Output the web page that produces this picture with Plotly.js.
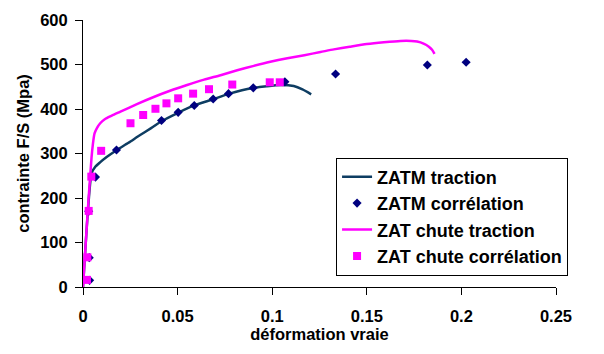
<!DOCTYPE html>
<html>
<head>
<meta charset="utf-8">
<script src="https://cdn.plot.ly/plotly-3.0.1.min.js"></script>
<style>html,body{margin:0;padding:0;background:#fff;}#chart{width:604px;height:354px;}</style>
</head>
<body>
<div id="chart"></div>
<script>
// ZATM traction (continuous curve)
const zatmTractionX = [0,0.0025,0.0045,0.0065,0.0090,0.0125,0.0179,0.024,0.030,0.036,0.0417,0.0505,0.0586,0.0688,0.077,0.084,0.090,0.097,0.1044,0.1114,0.116,0.1206];
const zatmTractionY = [0,165,255,270,280,292,308,324,341,357,373,392,408,422,434,442,447,451,454,451.5,444,433];

// ZATM corrélation (diamonds)
const zatmCorrX = [0.0035,0.0033,0.003,0.0066,0.0177,0.0415,0.0503,0.0588,0.0688,0.0769,0.090,0.1067,0.1335,0.182,0.2025];
const zatmCorrY = [15,66,170,247,308,374,392.5,408,422.5,434.5,447.5,461,478.5,499,505];

// ZAT chute traction (continuous curve)
const zatTractionX = [0,0.0025,0.0045,0.0052,0.0061,0.0075,0.0091,0.0115,0.0152,0.0198,0.0285,0.0374,0.046,0.055,0.064,0.0727,0.0815,0.0903,0.099,0.108,0.117,0.1255,0.1326,0.141,0.150,0.159,0.1678,0.1735,0.1766,0.180,0.1828,0.1845,0.1858];
const zatTractionY = [0,170,290,320,345,358,368,377,385,394,411,427,441,454,466,476,487,497,506,514,521,528,534,540,546,550,553,553,551.5,547,540,533,524];

// ZAT chute corrélation (squares)
const zatCorrX = [0.0021,0.0023,0.003,0.0044,0.0096,0.0251,0.0318,0.0383,0.0441,0.0503,0.0582,0.0666,0.0789,0.0987,0.104];
const zatCorrY = [16,66.7,171,248,306,368,386.5,400.5,412.7,424,434.5,444.5,455,460,460];

const seriesNames = ["ZATM traction","ZATM corrélation","ZAT chute traction","ZAT chute corrélation"];
const xTitle = "déformation vraie";
const yTitle = "contrainte F/S (Mpa)";

const FONT = "Liberation Sans, Arial, sans-serif";

const traces = [
  {x: zatmTractionX, y: zatmTractionY, name: seriesNames[0], mode: "lines", type: "scatter",
   line: {color: "#0E3D62", width: 2.5, shape: "spline", smoothing: 0.6}},
  {x: zatmCorrX, y: zatmCorrY, name: seriesNames[1], mode: "markers", type: "scatter",
   marker: {symbol: "diamond", size: 7, color: "#000080"}},
  {x: zatTractionX, y: zatTractionY, name: seriesNames[2], mode: "lines", type: "scatter",
   line: {color: "#FF00FF", width: 2.5, shape: "spline", smoothing: 0.6}},
  {x: zatCorrX, y: zatCorrY, name: seriesNames[3], mode: "markers", type: "scatter",
   marker: {symbol: "square", size: 8, color: "#FF00FF"}}
];

const layout = {
  width: 604, height: 354,
  margin: {l: 83, r: 48, t: 20, b: 67, pad: 0},
  paper_bgcolor: "#ffffff", plot_bgcolor: "#ffffff",
  font: {family: FONT, color: "#000000", size: 16.5, weight: "bold"},
  showlegend: true,
  legend: {
    x: 0.535, y: 0.485, xanchor: "left", yanchor: "top",
    bgcolor: "#ffffff", bordercolor: "#000000", borderwidth: 1,
    font: {family: FONT, size: 18, color: "#000000", weight: "bold"},
    itemwidth: 30
  },
  xaxis: {
    range: [0, 0.25], dtick: 0.05, tick0: 0,
    showgrid: false, zeroline: false, showline: true, linecolor: "#000000", linewidth: 1,
    ticks: "outside", ticklen: 7, tickcolor: "#000000", tickwidth: 1,
    ticklabelstandoff: 7,
    tickfont: {family: FONT, size: 16.5, weight: "bold"},
    title: {text: xTitle, font: {family: FONT, size: 16.5, weight: "bold"}, standoff: 0}
  },
  yaxis: {
    range: [0, 600], dtick: 100, tick0: 0,
    showgrid: false, zeroline: false, showline: true, linecolor: "#000000", linewidth: 1,
    ticks: "outside", ticklen: 7, tickcolor: "#000000", tickwidth: 1,
    ticklabelstandoff: 4,
    tickfont: {family: FONT, size: 16.5, weight: "bold"},
    title: {text: yTitle, font: {family: FONT, size: 16.5, weight: "bold"}, standoff: 6}
  }
};

Plotly.newPlot("chart", traces, layout, {staticPlot: true, displayModeBar: false});
</script>
</body>
</html>
